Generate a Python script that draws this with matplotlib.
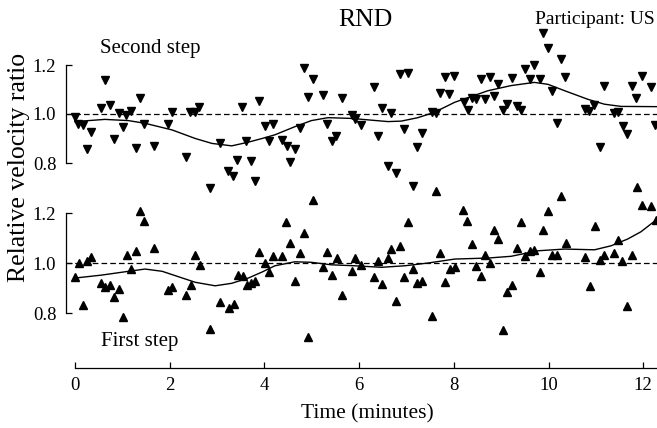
import matplotlib
matplotlib.use("Agg")
import matplotlib.pyplot as plt
from matplotlib.ticker import FormatStrFormatter

plt.rcParams['font.family'] = ['Liberation Serif', 'DejaVu Serif']

# ---- Data: second step (top panel) ----
second_t = [0.01, 0.06, 0.16, 0.25, 0.34, 0.54, 0.63, 0.73, 0.83, 0.92, 1.01, 1.08,
            1.19, 1.29, 1.38, 1.46, 1.66, 1.96, 2.04, 2.34, 2.43, 2.54, 2.62, 2.85,
            3.07, 3.24, 3.34, 3.43, 3.53, 3.61, 3.71, 3.81, 3.89, 4.01, 4.09, 4.18,
            4.37, 4.47, 4.55, 4.64, 4.75, 4.83, 4.92, 5.03, 5.24, 5.33, 5.42, 5.52,
            5.63, 5.84, 5.92, 6.03, 6.31, 6.40, 6.49, 6.60, 6.68, 6.78, 6.86, 6.95,
            7.03, 7.14, 7.23, 7.33, 7.53, 7.62, 7.71, 7.81, 7.90, 8.00, 8.21, 8.30,
            8.38, 8.47, 8.57, 8.66, 8.76, 8.85, 8.93, 9.04, 9.13, 9.23, 9.33, 9.42,
            9.51, 9.61, 9.70, 9.81, 9.89, 9.99, 10.08, 10.17, 10.27, 10.35, 10.78,
            10.86, 10.97, 11.08, 11.18, 11.38, 11.46, 11.57, 11.66, 11.77, 11.85,
            11.97, 12.17, 12.24]
second_v = [0.989, 0.959, 0.955, 0.856, 0.928, 1.023, 1.139, 1.037, 0.897, 1.003, 0.946, 0.996,
            1.013, 0.862, 1.064, 0.959, 0.869, 0.959, 1.007, 0.826, 1.007, 1.007, 1.030, 0.700,
            0.880, 0.767, 0.747, 0.812, 1.030, 0.890, 0.810, 0.727, 1.053, 0.952, 0.890, 0.959,
            0.894, 0.871, 0.803, 0.857, 0.944, 1.189, 1.068, 1.143, 1.078, 0.958, 0.890, 0.911,
            1.067, 0.996, 0.980, 0.955, 1.111, 0.911, 1.023, 0.789, 1.005, 0.760, 1.163, 0.939,
            1.166, 0.706, 0.867, 0.921, 1.010, 1.005, 1.086, 1.152, 1.080, 1.156, 1.050, 1.016,
            1.064, 1.061, 1.142, 1.061, 1.150, 1.073, 1.122, 1.016, 1.040, 1.146, 1.034, 1.016,
            1.182, 1.143, 1.200, 1.143, 1.329, 1.271, 1.095, 0.962, 1.223, 1.150, 1.019,
            1.012, 1.037, 0.867, 1.116, 1.003, 1.007, 0.952, 0.918, 1.114, 1.067,
            1.156, 1.111, 0.955]

second_fit_t = [0.00, 0.63, 1.13, 1.48, 2.05, 2.54, 2.89, 3.31, 3.66, 3.95, 4.22, 4.64,
                4.99, 5.34, 5.84, 6.19, 6.61, 6.89, 7.24, 7.59, 8.02, 8.72, 9.21, 9.70,
                9.99, 10.34, 10.83, 11.18, 11.53, 12.29]
second_fit_v = [0.969, 0.978, 0.973, 0.962, 0.935, 0.900, 0.880, 0.870, 0.885, 0.900, 0.915, 0.948,
                0.973, 0.985, 0.982, 0.976, 0.969, 0.971, 0.985, 1.007, 1.048, 1.095, 1.116, 1.129,
                1.121, 1.095, 1.060, 1.040, 1.031, 1.030]

# ---- Data: first step (bottom panel) ----
first_t = [0.01, 0.08, 0.16, 0.25, 0.34, 0.55, 0.63, 0.73, 0.83, 0.92, 1.01, 1.10,
           1.19, 1.29, 1.38, 1.46, 1.66, 1.96, 2.05, 2.35, 2.45, 2.54, 2.63, 2.85,
           3.07, 3.26, 3.35, 3.44, 3.54, 3.63, 3.72, 3.80, 3.89, 4.01, 4.09, 4.18,
           4.37, 4.46, 4.55, 4.64, 4.75, 4.83, 4.92, 5.03, 5.24, 5.33, 5.43, 5.53,
           5.63, 5.84, 5.92, 6.03, 6.31, 6.40, 6.49, 6.60, 6.68, 6.77, 6.86, 6.95,
           7.03, 7.14, 7.23, 7.33, 7.53, 7.62, 7.71, 7.81, 7.91, 8.02, 8.19, 8.28,
           8.38, 8.47, 8.57, 8.66, 8.76, 8.85, 8.93, 9.04, 9.13, 9.23, 9.33, 9.42,
           9.51, 9.61, 9.70, 9.81, 9.89, 9.99, 10.08, 10.18, 10.27, 10.36, 10.78,
           10.88, 10.99, 11.08, 11.18, 11.38, 11.46, 11.55, 11.66, 11.77, 11.86,
           11.98, 12.17, 12.26]
first_v = [0.946, 1.000, 0.834, 1.010, 1.026, 0.920, 0.904, 0.913, 0.866, 0.897, 0.786, 1.034,
           0.977, 1.048, 1.210, 1.168, 1.060, 0.894, 0.904, 0.874, 0.914, 1.034, 0.994, 0.737,
           0.844, 0.820, 0.837, 0.954, 0.950, 0.914, 0.920, 0.928, 1.044, 1.000, 0.966, 1.028,
           1.028, 1.164, 1.080, 0.928, 1.041, 1.121, 0.704, 1.254, 0.984, 1.046, 0.953, 1.021,
           0.873, 0.968, 1.020, 0.994, 0.944, 1.008, 0.917, 1.021, 1.057, 0.850, 1.068, 0.946,
           1.166, 0.977, 0.921, 0.928, 0.788, 1.288, 1.040, 0.924, 0.977, 0.986, 1.213, 1.170,
           1.077, 0.990, 0.948, 1.033, 1.001, 1.134, 1.097, 0.733, 0.886, 0.914, 1.060, 1.166,
           1.028, 1.048, 1.053, 0.964, 1.133, 1.208, 1.033, 1.033, 1.270, 1.080, 1.026,
           0.908, 1.150, 1.013, 1.033, 1.041, 1.094, 1.010, 0.830, 1.033, 1.304,
           1.233, 1.230, 1.173]

first_fit_t = [0.00, 0.57, 1.13, 1.48, 1.84, 2.19, 2.54, 2.96, 3.31, 3.66, 3.95, 4.22,
               4.64, 4.99, 5.41, 5.91, 6.47, 6.96, 7.45, 8.02, 8.72, 9.21, 9.77, 10.34,
               10.97, 11.32, 11.67, 11.95, 12.27]
first_fit_v = [0.941, 0.953, 0.968, 0.977, 0.968, 0.946, 0.924, 0.910, 0.920, 0.941, 0.965, 0.990,
               1.006, 1.004, 0.994, 0.990, 0.984, 0.990, 1.001, 1.017, 1.021, 1.028, 1.050, 1.057,
               1.054, 1.070, 1.097, 1.126, 1.173]

y_ticks = [0.8, 1.0, 1.2]
x_ticks = [0, 2, 4, 6, 8, 10, 12]
reference_ratio = 1.0

# ---- Figure layout (pixel based) ----
W, H = 657, 428
fig = plt.figure(figsize=(W / 100, H / 100), dpi=100)

def axes_rect(left_px, top_px, right_px, bottom_px):
    return [left_px / W, 1 - bottom_px / H, (right_px - left_px) / W, (bottom_px - top_px) / H]

ax_top = fig.add_axes(axes_rect(66, 65, 657, 163))
ax_bot = fig.add_axes(axes_rect(66, 213.3, 657, 313.3))

XLIM = (-0.19, 12.29)

for ax in (ax_top, ax_bot):
    ax.set_facecolor('none')
    ax.set_xlim(*XLIM)
    ax.set_ylim(0.8, 1.2)
    ax.spines['top'].set_visible(False)
    ax.spines['right'].set_visible(False)
    ax.spines['left'].set_bounds(0.8, 1.2)
    ax.spines['left'].set_linewidth(0.9)
    ax.set_yticks(y_ticks)
    ax.yaxis.set_major_formatter(FormatStrFormatter('%.1f'))
    ax.tick_params(axis='y', direction='in', length=4, width=0.9, pad=7, labelsize=13.5)
    ax.axhline(reference_ratio, color='black', lw=0.9, ls=(0, (4.5, 2.5)), zorder=1)

ax_top.spines['bottom'].set_visible(False)
ax_top.set_xticks([])

ax_bot.spines['bottom'].set_position(('outward', 55 * 0.72))
ax_bot.spines['bottom'].set_bounds(0, XLIM[1])
ax_bot.spines['bottom'].set_linewidth(0.9)
ax_bot.set_xticks(x_ticks)
ax_bot.tick_params(axis='x', direction='in', length=4, width=0.9, pad=6, labelsize=13.5)

# Scatter points and smoothed trends
ax_top.plot(second_t, second_v, 'v', color='black', ms=5.5, clip_on=False, zorder=3)
ax_top.plot(second_fit_t, second_fit_v, '-', color='black', lw=1.0, zorder=2)
ax_bot.plot(first_t, first_v, '^', color='black', ms=5.5, clip_on=False, zorder=3)
ax_bot.plot(first_fit_t, first_fit_v, '-', color='black', lw=1.0, zorder=2)

# ---- Text ----
def ftext(px, py, s, **kw):
    fig.text(px / W, 1 - py / H, s, **kw)

ftext(365, 26, 'RND', ha='center', va='baseline', fontsize=18.5)
ftext(655, 24, 'Participant: US', ha='right', va='baseline', fontsize=14)
ftext(100, 53, 'Second step', ha='left', va='baseline', fontsize=15)
ftext(101, 346, 'First step', ha='left', va='baseline', fontsize=15)
ftext(367, 418, 'Time (minutes)', ha='center', va='baseline', fontsize=15.5)
ftext(19, 167, 'Relative velocity ratio', ha='center', va='center',
      rotation=90, fontsize=18.5)

fig.savefig('out.png', dpi=100)
